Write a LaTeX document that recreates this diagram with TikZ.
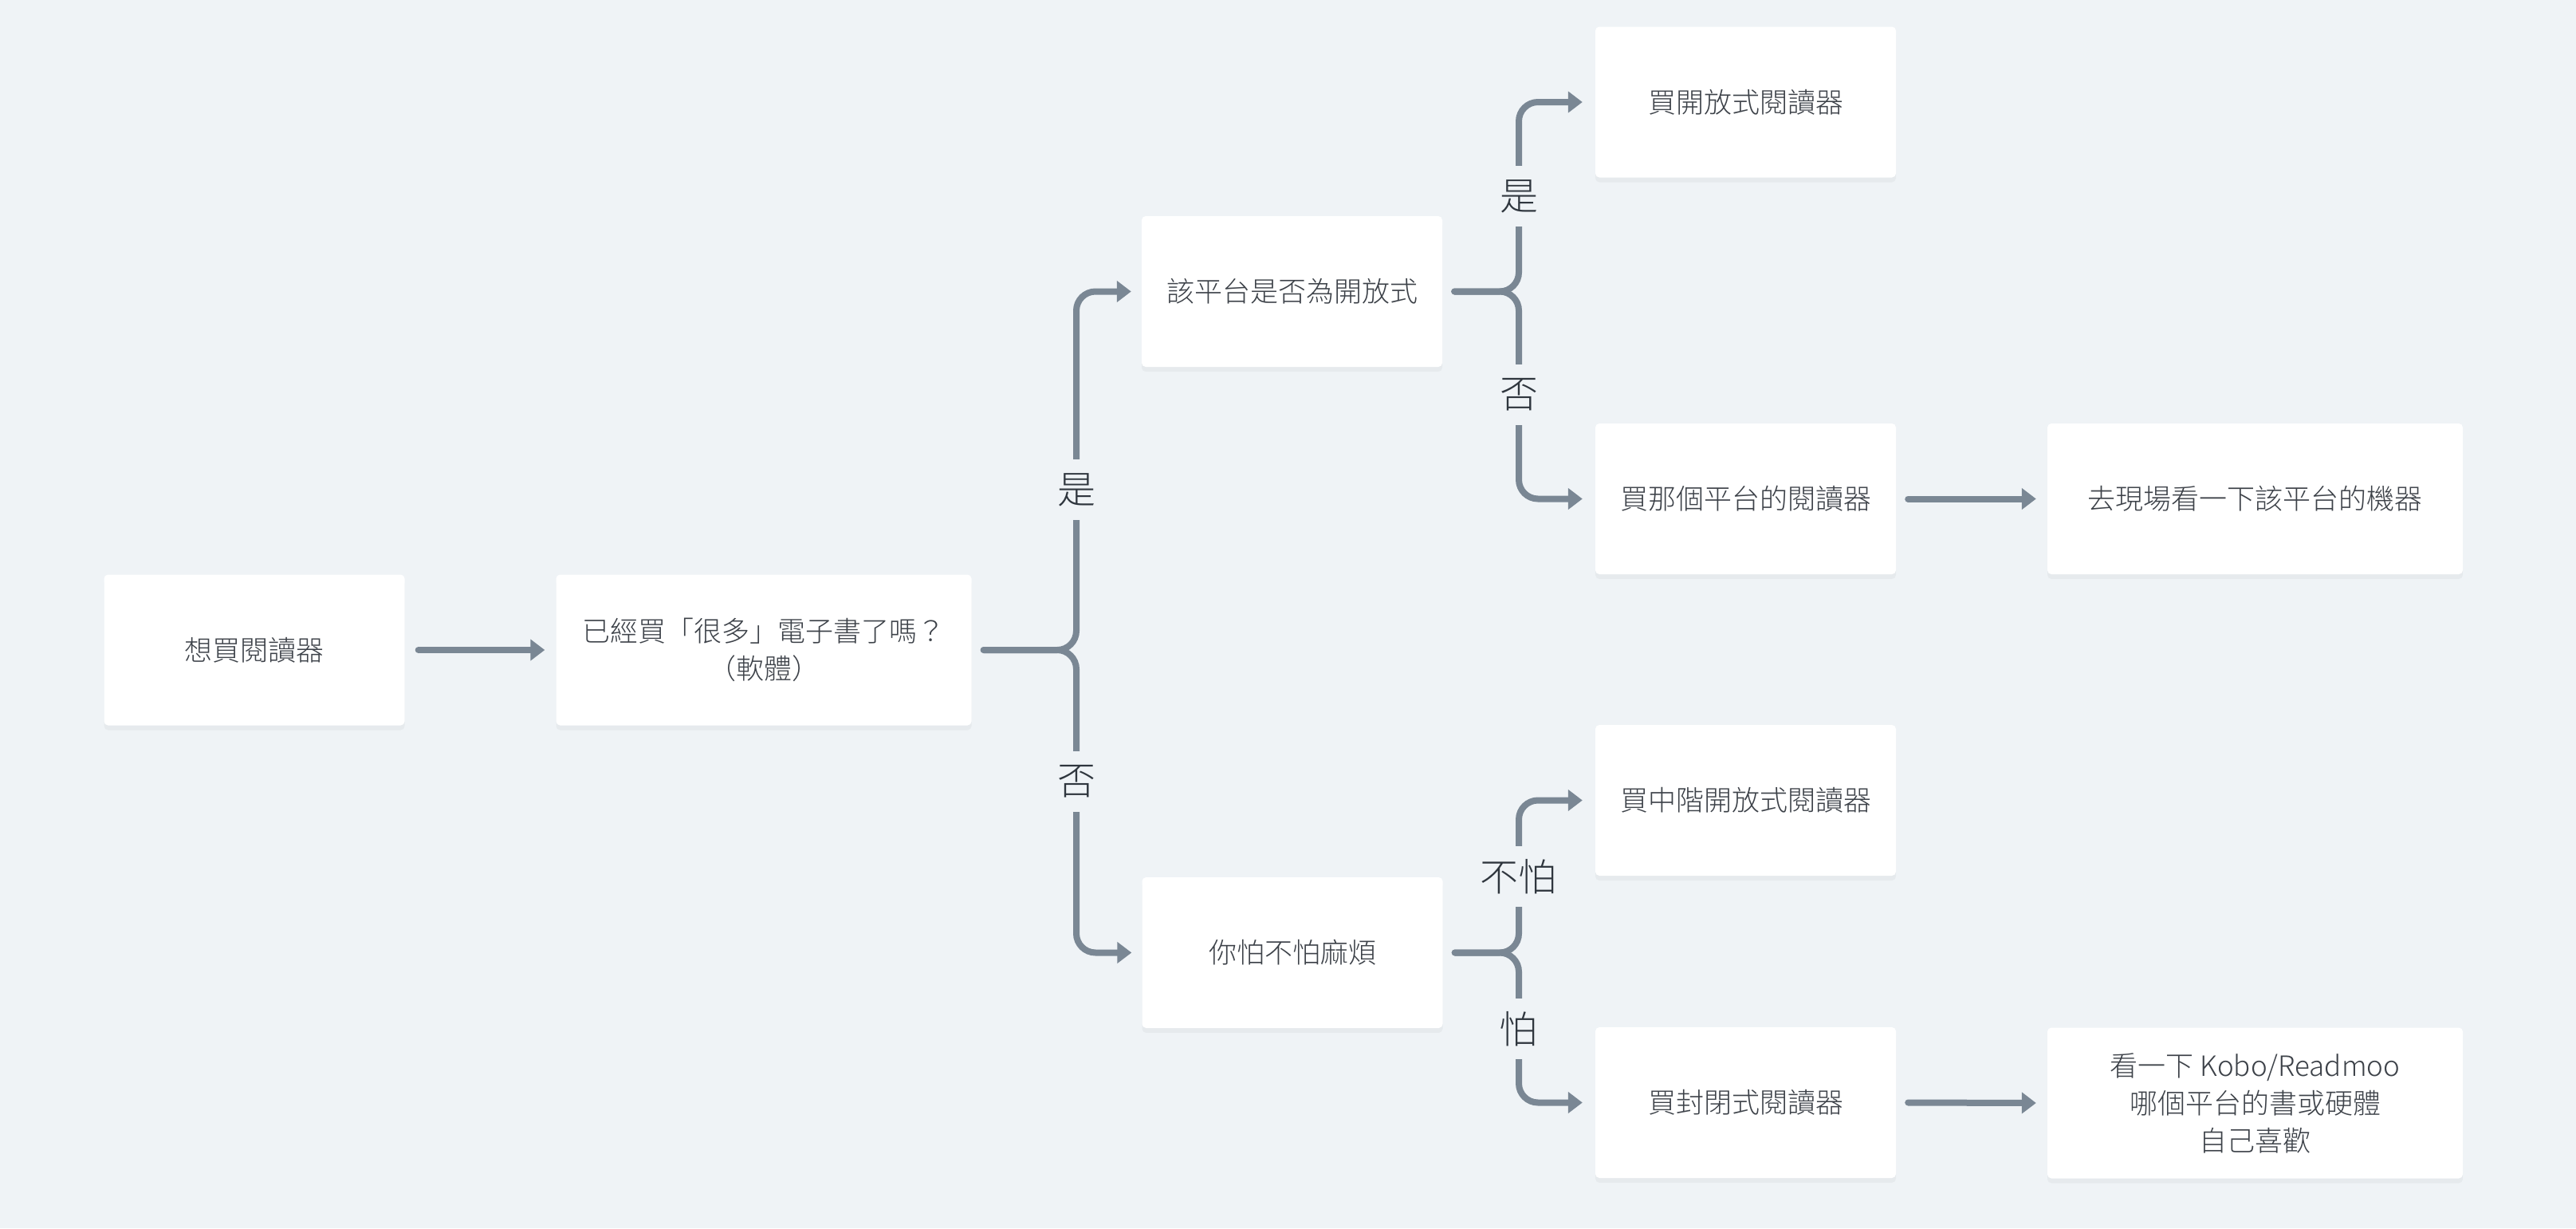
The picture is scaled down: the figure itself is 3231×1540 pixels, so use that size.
\documentclass[tikz,border=0pt]{standalone}
\usepackage{fontspec}
\setmainfont{Noto Sans CJK TC}[UprightFont=* Light]
\usetikzlibrary{arrows.meta,shadows}
\definecolor{bgcol}{HTML}{EFF3F6}
\definecolor{linecol}{HTML}{7A8794}
\definecolor{boxtext}{HTML}{3C4148}
\definecolor{labtext}{HTML}{2F363E}
\tikzset{
  box/.style={fill=white, rounded corners=5pt, minimum width=377pt, minimum height=189pt,
    inner sep=0pt, align=center, text=boxtext, font=\fontsize{35}{47}\selectfont,
    drop shadow={shadow xshift=0pt, shadow yshift=-6pt, fill=black, opacity=0.035}},
  widebox/.style={box, minimum width=521pt},
  conn/.style={draw=linecol, line width=8pt, line cap=round, rounded corners=24pt,
    -{Triangle[length=18pt,width=26pt]}},
  lab/.style={fill=bgcol, inner sep=0pt, minimum width=60pt, minimum height=76pt,
    text=labtext, font=\fontsize{48}{48}\selectfont}
}
\begin{document}
\begin{tikzpicture}[x=1pt,y=-1pt]
\fill[bgcol] (0,0) rectangle (3231,1540);
\useasboundingbox (0,0) rectangle (3231,1540);

\node[box] (A) at (319,815) {想買閱讀器};
\node[widebox] (B) at (958,815) {已經買「很多」電子書了嗎？\\（軟體）};
\node[box] (C) at (1620.5,365.5) {該平台是否為開放式};
\node[box] (D) at (1621,1194.5) {你怕不怕麻煩};
\node[box] (E) at (2189.5,128) {買開放式閱讀器};
\node[box] (F) at (2189.5,625.5) {買那個平台的閱讀器};
\node[widebox] (G) at (2828.5,625.5) {去現場看一下該平台的機器};
\node[box] (H) at (2189.5,1003.5) {買中階開放式閱讀器};
\node[box] (I) at (2189.5,1382.5) {買封閉式閱讀器};
\node[widebox] (J) at (2828.5,1383) {看一下 Kobo/Readmoo\\哪個平台的書或硬體\\自己喜歡};

\coordinate (jB) at (1350,815);
\coordinate (jC) at (1905,365.5);
\coordinate (jD) at (1905,1194.5);

\draw[conn] ([xshift=17pt]A.east) -- ([xshift=-14pt]B.west);
\draw[conn] ([xshift=15pt]B.east) -- (jB) |- ([xshift=-13pt]C.west);
\draw[conn] ([xshift=15pt]B.east) -- (jB) |- ([xshift=-13pt]D.west);
\draw[conn] ([xshift=15pt]C.east) -- (jC) |- ([xshift=-16pt]E.west);
\draw[conn] ([xshift=15pt]C.east) -- (jC) |- ([xshift=-16pt]F.west);
\draw[conn] ([xshift=15pt]F.east) -- ([xshift=-14pt]G.west);
\draw[conn] ([xshift=15pt]D.east) -- (jD) |- ([xshift=-16pt]H.west);
\draw[conn] ([xshift=15pt]D.east) -- (jD) |- ([xshift=-16pt]I.west);
\draw[conn] ([xshift=15pt]I.east) -- ([xshift=-14pt]J.west);

\node[lab] (l1) at (1350,614) {是};
\node[lab] (l2) at (1350,980) {否};
\node[lab] (l3) at (1905,246) {是};
\node[lab] (l4) at (1905,495) {否};
\node[lab, minimum width=110pt] (l5) at (1904,1099) {不怕};
\node[lab] (l6) at (1904,1290) {怕};
\end{tikzpicture}
\end{document}
